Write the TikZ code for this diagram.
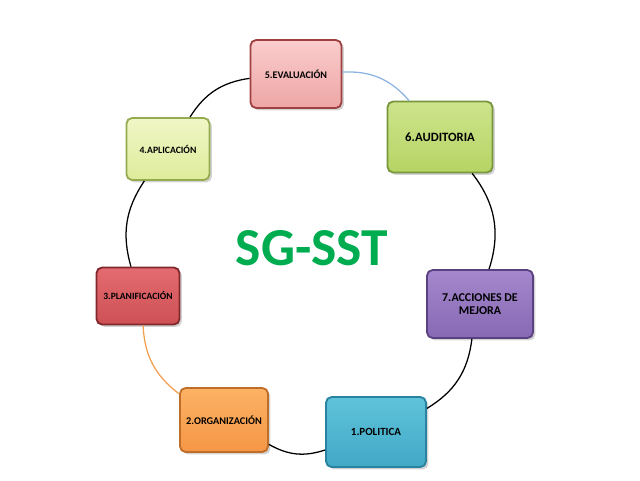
\documentclass[tikz,border=0pt]{standalone}
\usepackage{fontspec}
\setmainfont{Carlito}
\usepackage{tikz}
\usetikzlibrary{shadows}

\definecolor{verdeSST}{RGB}{0,172,80}
\definecolor{azulLinea}{RGB}{141,180,226}
\definecolor{naranjaLinea}{RGB}{240,160,80}

\newcommand{\tam}[1]{\bfseries\fontsize{#1}{#1}\selectfont}

\begin{document}
\begin{tikzpicture}[line width=0.9pt,
  etapa/.style={rounded corners=4pt, line width=1.3pt, align=center, text=black,
    drop shadow={opacity=0.35, shadow xshift=0.06, shadow yshift=-0.06}},
  enlace/.style={line width=0.9pt}]

\useasboundingbox (0,0) rectangle (16,12);

% etapas del ciclo
\node [etapa, draw={rgb,255:red,160;green,64;blue,64},
  top color={rgb,255:red,250;green,205;blue,205}, bottom color={rgb,255:red,238;green,165;blue,165},
  minimum width=2.275cm, minimum height=1.7cm, font=\tam{7.2}] (evaluacion) at (7.4,10.15) {5.EVALUACIÓN};
\node [etapa, draw={rgb,255:red,120;green,150;blue,60},
  top color={rgb,255:red,205;green,228;blue,140}, bottom color={rgb,255:red,182;green,212;blue,100},
  minimum width=2.625cm, minimum height=1.775cm, font=\tam{9}] (auditoria) at (11.0,8.575) {6.AUDITORIA};
\node [etapa, draw={rgb,255:red,150;green,170;blue,80},
  top color={rgb,255:red,240;green,246;blue,198}, bottom color={rgb,255:red,222;green,236;blue,155},
  minimum width=2.075cm, minimum height=1.55cm, font=\tam{6.9}] (aplicacion) at (4.2,8.275) {4.APLICACIÓN};
\node [etapa, draw={rgb,255:red,130;green,40;blue,45},
  top color={rgb,255:red,228;green,108;blue,112}, bottom color={rgb,255:red,205;green,80;blue,85},
  minimum width=2.075cm, minimum height=1.425cm, font=\tam{6.8}] (planificacion) at (3.45,4.6) {3.PLANIFICACIÓN};
\node [etapa, draw={rgb,255:red,190;green,110;blue,40},
  top color={rgb,255:red,252;green,178;blue,100}, bottom color={rgb,255:red,245;green,150;blue,70},
  minimum width=2.2cm, minimum height=1.6cm, font=\tam{7.3}] (organizacion) at (5.6,1.5) {2.ORGANIZACIÓN};
\node [etapa, draw={rgb,255:red,90;green,65;blue,130},
  top color={rgb,255:red,165;green,135;blue,205}, bottom color={rgb,255:red,135;green,105;blue,180},
  minimum width=2.65cm, minimum height=1.7cm, font=\tam{8.5}] (mejora) at (12.0,4.4) {7.ACCIONES DE\\[1pt]MEJORA};
\node [etapa, draw={rgb,255:red,40;green,130;blue,160},
  top color={rgb,255:red,95;green,195;blue,218}, bottom color={rgb,255:red,65;green,168;blue,198},
  minimum width=2.5cm, minimum height=1.75cm, font=\tam{7.8}] (politica) at (9.4,1.2) {1.POLITICA};

\node [text=verdeSST, font=\tam{38}] (titulo) at (7.8,5.8) {SG-SST};

% circulo
\draw [enlace] (politica) to [bend right=26] (mejora);
\draw [enlace] (mejora) to [bend right=28] (auditoria);
\draw [enlace, azulLinea] (auditoria) to [bend right=26] (evaluacion);
\draw [enlace] (evaluacion) to [bend right=25] (aplicacion);
\draw [enlace] (aplicacion) to [bend right=25] (planificacion);
\draw [enlace, naranjaLinea] (planificacion) to [bend right=25] (organizacion);
\draw [enlace] (organizacion) to [bend right=24] (politica);

\end{tikzpicture}
\end{document}
